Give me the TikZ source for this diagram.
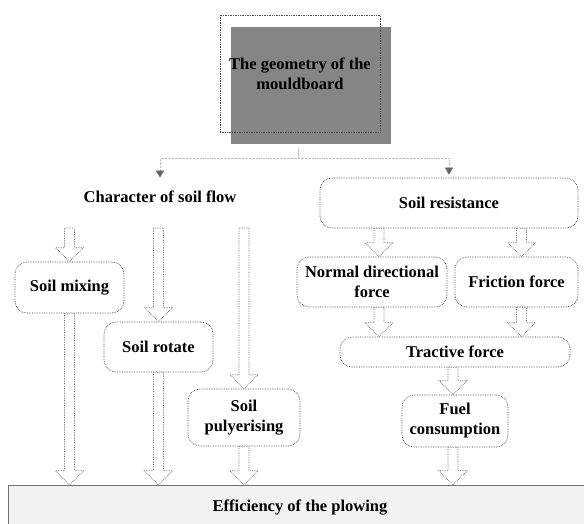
\documentclass[tikz,border=0pt]{standalone}
\usepackage{fontspec}
\setmainfont{Liberation Serif}
\usetikzlibrary{arrows.meta, positioning, calc, shadows}

\begin{document}
\begin{tikzpicture}[x=1pt,y=-1pt,
   font=\fontsize{16.5}{20}\selectfont\bfseries,
   box/.style={draw=black!75, densely dotted, line width=0.7pt, rounded corners=12pt,
         align=center, inner sep=0pt},
   blk/.style={draw=black!60, densely dotted, line width=0.7pt, fill=white,
         to path={let \p1=(\tikztostart), \p2=(\tikztotarget) in
            (\x1-5pt,\y1) -- (\x1-5pt,\y2+14pt) -- (\x1-14pt,\y2+14pt)
            -- (\x1,\y2) -- (\x1+14pt,\y2+14pt) -- (\x1+5pt,\y2+14pt)
            -- (\x1+5pt,\y1) -- cycle}},
   feed/.style={draw=black!25, densely dotted,
         -{Triangle[length=7pt,width=8pt,color=black!60,fill=black!60]}}]
   \useasboundingbox (0,0) rectangle (584,523);

   % source box with its shadow
   \node[draw=black!70, densely dotted, line width=0.7pt, minimum width=160pt, minimum height=117pt,
         align=center, general shadow={fill=black!48, shadow xshift=11pt, shadow yshift=-12pt}]
         (geo) at (300,73.5) {The geometry of the\\mouldboard};

   % two branches
   \node (char) at (160,197) {Character of soil flow};
   \node[box, minimum width=258pt, minimum height=50pt] (resist) at (449,203) {Soil resistance};

   \coordinate (drop) at ($(geo.south)+(-2,16)$);
   \coordinate (fork) at ($(geo.south)+(-2,26)$);
   \draw[feed, shorten >=10pt] (drop) -- (fork) -| (char.north);
   \draw[feed, shorten >=3pt] (drop) -- (fork) -| (resist.north);

   % soil flow column
   \coordinate (ctop) at (0,228);
   \node[box, minimum width=109pt, minimum height=51pt] (mix) at (69.5,287.5) {Soil mixing};
   \node[box, minimum width=109pt, minimum height=50pt] (rot) at (158.5,347) {Soil rotate};
   \node[box, minimum width=112pt, minimum height=57pt] (pulv) at (244,417.5) {Soil\\pulyerising};

   % resistance column
   \node[box, minimum width=150pt, minimum height=50pt] (normal) at (372,282) {Normal directional\\force};
   \node[box, minimum width=123pt, minimum height=50pt] (fric) at (516.5,282) {Friction force};
   \node[box, minimum width=230pt, minimum height=30pt] (tract) at (455,352) {Tractive force};
   \node[box, minimum width=106pt, minimum height=52pt] (fuel) at (455,421) {Fuel\\consumption};

   % result
   \node[draw=black!55, fill=black!5, minimum width=584pt, minimum height=46pt]
         (eff) at (300,508) {Efficiency of the plowing};

   \draw[blk] (mix.north |- ctop) to (mix.north);
   \draw[blk] (mix.south) to (mix.south |- eff.north);
   \draw[blk] (rot.north |- ctop) to (rot.north);
   \draw[blk] (rot.south) to (rot.south |- eff.north);
   \draw[blk] (pulv.north |- ctop) to (pulv.north);
   \draw[blk] (pulv.south) to (pulv.south |- eff.north);

   \draw[blk] ($(normal.north |- resist.south)+(7,0)$) to ($(normal.north)+(7,0)$);
   \draw[blk] ($(fric.north |- resist.south)+(5,0)$) to ($(fric.north)+(5,0)$);
   \draw[blk] ($(normal.south)+(7,0)$) to ($(normal.south |- tract.north)+(7,0)$);
   \draw[blk] ($(fric.south)+(5,0)$) to ($(fric.south |- tract.north)+(5,0)$);
   \draw[blk] ($(tract.south)+(-2,0)$) to ($(fuel.north)+(-2,0)$);
   \draw[blk] ($(fuel.south)+(-2,0)$) to ($(fuel.south |- eff.north)+(-2,0)$);
\end{tikzpicture}
\end{document}
